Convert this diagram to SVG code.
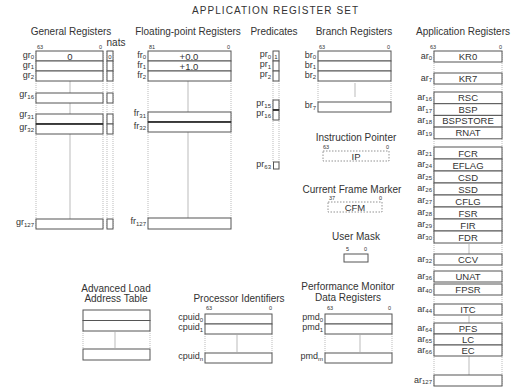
<svg xmlns="http://www.w3.org/2000/svg" width="518" height="391" viewBox="0 0 518 391">
<style>
text{font-family:"Liberation Sans",Arial,sans-serif;fill:#333}
.h{font-size:10px;text-anchor:middle}
.l{font-size:9px;text-anchor:end}
.s{font-size:6px}
.b{font-size:5.5px}
.br{font-size:5.5px;text-anchor:end}
.c{font-size:9.5px;text-anchor:middle}
.box{fill:#fff;stroke:#555;stroke-width:1}
.thick{stroke:#222;stroke-width:1.6}
.dot{stroke:#aaa;stroke-width:0.8;stroke-dasharray:1,1;fill:none}
.cl{stroke:#aaa;stroke-width:0.8}
.dash{fill:#fff;stroke:#777;stroke-width:0.8;stroke-dasharray:1.5,1.5}
</style>
<rect width="518" height="391" fill="#fff"/>
<text x="275" y="14" class="h" textLength="166" lengthAdjust="spacing">APPLICATION REGISTER SET</text>

<g id="general-registers">
<text x="71" y="35" class="h">General Registers</text>
<text x="116" y="46" class="h">nats</text>
<text x="37" y="49" class="b">63</text><text x="102" y="49" class="br">0</text>
<line x1="36" y1="51" x2="36" y2="229" class="dot"/><line x1="103" y1="51" x2="103" y2="229" class="dot"/>
<line x1="107" y1="51" x2="107" y2="229" class="dot"/><line x1="113" y1="51" x2="113" y2="229" class="dot"/>
<line x1="70" y1="81" x2="70" y2="219" class="cl"/>
<rect x="36" y="51" width="67" height="10" class="box"/>
<rect x="36" y="61" width="67" height="10" class="box"/>
<rect x="36" y="71" width="67" height="10" class="box"/>
<rect x="36" y="93" width="67" height="10" class="box"/>
<rect x="36" y="114" width="67" height="10" class="box"/>
<rect x="36" y="124" width="67" height="10" class="box"/>
<line x1="36" y1="124" x2="103" y2="124" class="thick"/>
<rect x="36" y="219" width="67" height="10" class="box"/>
<text x="70" y="59.5" class="c">0</text>
<rect x="107" y="51" width="6" height="10" class="box"/>
<rect x="107" y="61" width="6" height="10" class="box"/>
<rect x="107" y="71" width="6" height="10" class="box"/>
<rect x="107" y="93" width="6" height="10" class="box"/>
<rect x="107" y="114" width="6" height="10" class="box"/>
<rect x="107" y="124" width="6" height="10" class="box"/>
<rect x="107" y="219" width="6" height="10" class="box"/>
<text x="110" y="59" class="c" style="font-size:6px">0</text>
<text x="34" y="57.5" class="l">gr<tspan class="s" dy="1.5">0</tspan></text>
<text x="34" y="67.5" class="l">gr<tspan class="s" dy="1.5">1</tspan></text>
<text x="34" y="77.5" class="l">gr<tspan class="s" dy="1.5">2</tspan></text>
<text x="34" y="97" class="l">gr<tspan class="s" dy="1.5">16</tspan></text>
<text x="34" y="117" class="l">gr<tspan class="s" dy="1.5">31</tspan></text>
<text x="34" y="130" class="l">gr<tspan class="s" dy="1.5">32</tspan></text>
<text x="34" y="225" class="l">gr<tspan class="s" dy="1.5">127</tspan></text>
</g>

<g id="floating-point-registers">
<text x="188" y="35" class="h">Floating-point Registers</text>
<text x="149" y="49" class="b">81</text><text x="230" y="49" class="br">0</text>
<line x1="148" y1="81" x2="148" y2="218" class="dot"/><line x1="231" y1="81" x2="231" y2="218" class="dot"/>
<line x1="188" y1="81" x2="188" y2="218" class="cl"/>
<rect x="148" y="51" width="83" height="10" class="box"/>
<rect x="148" y="61" width="83" height="10" class="box"/>
<rect x="148" y="71" width="83" height="10" class="box"/>
<rect x="148" y="112" width="83" height="10" class="box"/>
<rect x="148" y="122" width="83" height="10" class="box"/>
<line x1="148" y1="122" x2="231" y2="122" class="thick"/>
<rect x="148" y="218" width="83" height="11" class="box"/>
<text x="189" y="59.5" class="c">+0.0</text>
<text x="189" y="69.5" class="c">+1.0</text>
<text x="146" y="57.5" class="l">fr<tspan class="s" dy="1.5">0</tspan></text>
<text x="146" y="67.5" class="l">fr<tspan class="s" dy="1.5">1</tspan></text>
<text x="146" y="77.5" class="l">fr<tspan class="s" dy="1.5">2</tspan></text>
<text x="146" y="116" class="l">fr<tspan class="s" dy="1.5">31</tspan></text>
<text x="146" y="128.5" class="l">fr<tspan class="s" dy="1.5">32</tspan></text>
<text x="146" y="224" class="l">fr<tspan class="s" dy="1.5">127</tspan></text>
</g>

<g id="predicates">
<text x="274" y="35" class="h">Predicates</text>
<line x1="273" y1="81" x2="273" y2="162" class="dot"/><line x1="279" y1="81" x2="279" y2="162" class="dot"/>
<rect x="273" y="51" width="6" height="10" class="box"/>
<rect x="273" y="61" width="6" height="10" class="box"/>
<rect x="273" y="71" width="6" height="10" class="box"/>
<rect x="273" y="100" width="6" height="10" class="box"/>
<rect x="273" y="110" width="6" height="10" class="box"/>
<line x1="273" y1="110" x2="279" y2="110" class="thick"/>
<rect x="273.5" y="162" width="5.5" height="7" class="box"/>
<text x="276" y="59" class="c" style="font-size:6px">1</text>
<text x="271" y="57" class="l">pr<tspan class="s" dy="1.5">0</tspan></text>
<text x="271" y="67" class="l">pr<tspan class="s" dy="1.5">1</tspan></text>
<text x="271" y="77" class="l">pr<tspan class="s" dy="1.5">2</tspan></text>
<text x="271" y="106" class="l">pr<tspan class="s" dy="1.5">15</tspan></text>
<text x="271" y="116" class="l">pr<tspan class="s" dy="1.5">16</tspan></text>
<text x="271" y="167" class="l">pr<tspan class="s" dy="1.5">63</tspan></text>
</g>

<g id="branch-registers">
<text x="354" y="35" class="h">Branch Registers</text>
<text x="319" y="49" class="b">63</text><text x="390" y="49" class="br">0</text>
<line x1="318" y1="81" x2="318" y2="102" class="dot"/><line x1="391" y1="81" x2="391" y2="102" class="dot"/>
<line x1="355" y1="83" x2="355" y2="97" class="cl"/>
<rect x="318" y="51" width="73" height="10" class="box"/>
<rect x="318" y="61" width="73" height="10" class="box"/>
<rect x="318" y="71" width="73" height="10" class="box"/>
<rect x="318" y="102" width="73" height="10" class="box"/>
<text x="316" y="57.5" class="l">br<tspan class="s" dy="1.5">0</tspan></text>
<text x="316" y="67.5" class="l">br<tspan class="s" dy="1.5">1</tspan></text>
<text x="316" y="77.5" class="l">br<tspan class="s" dy="1.5">2</tspan></text>
<text x="316" y="108" class="l">br<tspan class="s" dy="1.5">7</tspan></text>
</g>

<g id="instruction-pointer">
<text x="356" y="141" class="h">Instruction Pointer</text>
<text x="323" y="149" class="b">63</text><text x="389" y="149" class="br">0</text>
<rect x="323" y="151" width="66" height="10" class="dash"/>
<text x="356" y="159.5" class="c">IP</text>
</g>

<g id="current-frame-marker">
<text x="352" y="193" class="h">Current Frame Marker</text>
<text x="329" y="200" class="b">37</text><text x="382" y="200" class="br">0</text>
<rect x="328" y="202" width="54" height="10" class="dash"/>
<text x="355" y="210.5" class="c">CFM</text>
</g>

<g id="user-mask">
<text x="356" y="240" class="h">User Mask</text>
<text x="346" y="251" class="b">5</text><text x="367" y="251" class="br">0</text>
<rect x="344" y="254" width="24" height="8" class="box"/>
</g>

<g id="application-registers">
<text x="463" y="35" class="h">Application Registers</text>
<text x="430" y="49" class="b">63</text><text x="502" y="49" class="br">0</text>
<line x1="434" y1="51" x2="434" y2="386" class="dot"/><line x1="502" y1="51" x2="502" y2="386" class="dot"/>
<line x1="469" y1="244" x2="469" y2="254" class="cl"/>
<line x1="469" y1="316" x2="469" y2="323" class="cl"/>
<line x1="469" y1="356" x2="469" y2="375" class="cl"/>
<rect x="434" y="51" width="68" height="11" class="box"/>
<rect x="434" y="73" width="68" height="11" class="box"/>
<rect x="434" y="92" width="68" height="11.7" class="box"/>
<rect x="434" y="103.7" width="68" height="11.7" class="box"/>
<rect x="434" y="115.4" width="68" height="11.7" class="box"/>
<rect x="434" y="127.1" width="68" height="11.7" class="box"/>
<rect x="434" y="147" width="68" height="12" class="box"/>
<rect x="434" y="159" width="68" height="12" class="box"/>
<rect x="434" y="171" width="68" height="12" class="box"/>
<rect x="434" y="183" width="68" height="12" class="box"/>
<rect x="434" y="195" width="68" height="12" class="box"/>
<rect x="434" y="207" width="68" height="12" class="box"/>
<rect x="434" y="219" width="68" height="12" class="box"/>
<rect x="434" y="231" width="68" height="12" class="box"/>
<rect x="434" y="254" width="68" height="11" class="box"/>
<rect x="434" y="271" width="68" height="11" class="box"/>
<rect x="434" y="284" width="68" height="11" class="box"/>
<rect x="434" y="304" width="68" height="11" class="box"/>
<rect x="434" y="323" width="68" height="11" class="box"/>
<rect x="434" y="334" width="68" height="11" class="box"/>
<rect x="434" y="345" width="68" height="11" class="box"/>
<rect x="434" y="375" width="68" height="11" class="box"/>
<text x="468" y="60" class="c">KR0</text>
<text x="468" y="82" class="c">KR7</text>
<text x="468" y="101" class="c">RSC</text>
<text x="468" y="112.7" class="c">BSP</text>
<text x="468" y="124.4" class="c">BSPSTORE</text>
<text x="468" y="136.1" class="c">RNAT</text>
<text x="468" y="156.5" class="c">FCR</text>
<text x="468" y="168.5" class="c">EFLAG</text>
<text x="468" y="180.5" class="c">CSD</text>
<text x="468" y="192.5" class="c">SSD</text>
<text x="468" y="204.5" class="c">CFLG</text>
<text x="468" y="216.5" class="c">FSR</text>
<text x="468" y="228.5" class="c">FIR</text>
<text x="468" y="240.5" class="c">FDR</text>
<text x="468" y="263" class="c">CCV</text>
<text x="468" y="280" class="c">UNAT</text>
<text x="468" y="293" class="c">FPSR</text>
<text x="468" y="313" class="c">ITC</text>
<text x="468" y="332" class="c">PFS</text>
<text x="468" y="343" class="c">LC</text>
<text x="468" y="354" class="c">EC</text>
<text x="432" y="58.5" class="l">ar<tspan class="s" dy="1.5">0</tspan></text>
<text x="432" y="80.5" class="l">ar<tspan class="s" dy="1.5">7</tspan></text>
<text x="432" y="99.5" class="l">ar<tspan class="s" dy="1.5">16</tspan></text>
<text x="432" y="111.2" class="l">ar<tspan class="s" dy="1.5">17</tspan></text>
<text x="432" y="122.9" class="l">ar<tspan class="s" dy="1.5">18</tspan></text>
<text x="432" y="134.6" class="l">ar<tspan class="s" dy="1.5">19</tspan></text>
<text x="432" y="154.5" class="l">ar<tspan class="s" dy="1.5">21</tspan></text>
<text x="432" y="166.5" class="l">ar<tspan class="s" dy="1.5">24</tspan></text>
<text x="432" y="178.5" class="l">ar<tspan class="s" dy="1.5">25</tspan></text>
<text x="432" y="190.5" class="l">ar<tspan class="s" dy="1.5">26</tspan></text>
<text x="432" y="202.5" class="l">ar<tspan class="s" dy="1.5">27</tspan></text>
<text x="432" y="214.5" class="l">ar<tspan class="s" dy="1.5">28</tspan></text>
<text x="432" y="226.5" class="l">ar<tspan class="s" dy="1.5">29</tspan></text>
<text x="432" y="238.5" class="l">ar<tspan class="s" dy="1.5">30</tspan></text>
<text x="432" y="261.5" class="l">ar<tspan class="s" dy="1.5">32</tspan></text>
<text x="432" y="278.5" class="l">ar<tspan class="s" dy="1.5">36</tspan></text>
<text x="432" y="291.5" class="l">ar<tspan class="s" dy="1.5">40</tspan></text>
<text x="432" y="311.5" class="l">ar<tspan class="s" dy="1.5">44</tspan></text>
<text x="432" y="330.5" class="l">ar<tspan class="s" dy="1.5">64</tspan></text>
<text x="432" y="341.5" class="l">ar<tspan class="s" dy="1.5">65</tspan></text>
<text x="432" y="352.5" class="l">ar<tspan class="s" dy="1.5">66</tspan></text>
<text x="432" y="382.5" class="l">ar<tspan class="s" dy="1.5">127</tspan></text>
</g>

<g id="alat">
<text x="116" y="292" class="h">Advanced Load</text>
<text x="116" y="302" class="h">Address Table</text>
<line x1="83" y1="331" x2="83" y2="349" class="dot"/><line x1="150" y1="331" x2="150" y2="349" class="dot"/>
<line x1="115" y1="332" x2="115" y2="348" class="cl"/>
<rect x="83" y="310" width="67" height="10.5" class="box"/>
<rect x="83" y="320.5" width="67" height="10.5" class="box"/>
<rect x="83" y="349" width="67" height="11" class="box"/>
</g>

<g id="processor-identifiers">
<text x="239" y="302" class="h">Processor Identifiers</text>
<text x="206" y="310" class="b">63</text><text x="272" y="310" class="br">0</text>
<line x1="205" y1="334" x2="205" y2="353" class="dot"/><line x1="272" y1="334" x2="272" y2="353" class="dot"/>
<line x1="237" y1="335" x2="237" y2="352" class="cl"/>
<rect x="205" y="314" width="67" height="10" class="box"/>
<rect x="205" y="324" width="67" height="10" class="box"/>
<rect x="205" y="353" width="67" height="10" class="box"/>
<text x="203" y="320" class="l">cpuid<tspan class="s" dy="1.5">0</tspan></text>
<text x="203" y="330" class="l">cpuid<tspan class="s" dy="1.5">1</tspan></text>
<text x="203" y="359" class="l">cpuid<tspan class="s" dy="1.5">n</tspan></text>
</g>

<g id="performance-monitor">
<text x="348" y="290" class="h">Performance Monitor</text>
<text x="348" y="301" class="h">Data Registers</text>
<text x="327" y="310" class="b">63</text><text x="391" y="310" class="br">0</text>
<line x1="325" y1="334" x2="325" y2="353" class="dot"/><line x1="392" y1="334" x2="392" y2="353" class="dot"/>
<line x1="360" y1="335" x2="360" y2="352" class="cl"/>
<rect x="325" y="314" width="67" height="10" class="box"/>
<rect x="325" y="324" width="67" height="10" class="box"/>
<rect x="325" y="353" width="67" height="10" class="box"/>
<text x="323" y="320" class="l">pmd<tspan class="s" dy="1.5">0</tspan></text>
<text x="323" y="330" class="l">pmd<tspan class="s" dy="1.5">1</tspan></text>
<text x="323" y="359" class="l">pmd<tspan class="s" dy="1.5">m</tspan></text>
</g>

<g id="connectors"></g>
</svg>
